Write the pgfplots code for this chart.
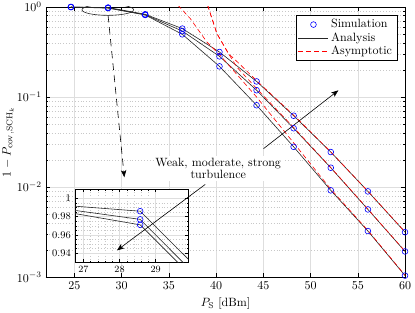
\documentclass[border=0pt]{standalone}
\usepackage{pgfplots}
\usepackage{pgfplotstable}
\pgfplotsset{compat=1.18}
\usetikzlibrary{arrows.meta,calc}

\definecolor{mblue}{RGB}{0,0,255}
\definecolor{mred}{RGB}{255,0,0}
\definecolor{mgrid}{RGB}{222,222,222}
\definecolor{mminor}{RGB}{200,200,200}

\pgfplotstableread{
x      T       M       B
24.64  0.998   0.9985  0.998
28.57  0.986   0.977   0.971
32.50  0.830   0.820   0.815
36.43  0.575   0.540   0.497
40.36  0.316   0.283   0.219
44.29  0.149   0.119   0.081
48.21  0.062   0.045   0.028
52.14  0.0245  0.0164  0.0092
56.07  0.00896 0.00565 0.00325
60.00  0.00316 0.00193 0.00104
}\simdata

\pgfplotstableread{
x     y
39.10 1.05
40.09 0.506
41.32 0.303
42.50 0.232
44.29 0.152
48.21 0.063
52.14 0.0246
56.07 0.0090
60.00 0.00318
}\asyT

\pgfplotstableread{
x     y
39.10 1.05
40.09 0.506
41.32 0.303
42.20 0.215
44.49 0.118
48.21 0.046
52.14 0.0165
56.07 0.0057
60.00 0.00194
}\asyM

\pgfplotstableread{
x     y
35.95 1.05
37.27 0.743
39.03 0.408
40.44 0.290
44.29 0.100
48.21 0.031
52.14 0.0095
56.07 0.0033
60.00 0.00105
}\asyB

\begin{document}
\begin{tikzpicture}
\begin{axis}[
  name=main,
  width=299pt, height=225pt, scale only axis,
  ymode=log,
  xmin=22, xmax=60, ymin=1e-3, ymax=1,
  xtick={25,30,...,60},
  ytick={1e-3,1e-2,1e-1,1},
  minor x tick num=0,
  xmajorgrids, ymajorgrids, yminorgrids,
  major grid style={mgrid, line width=0.4pt},
  minor grid style={mminor, dotted, line width=0.4pt},
  tick align=inside, tick pos=both,
  major tick length=3.5pt, minor tick length=2pt,
  every tick/.style={black, line width=0.4pt},
  axis line style={black, line width=0.5pt},
  xlabel={$P_{\mathrm{S}}$ [dBm]},
  ylabel={$1-P_{\mathrm{cov},\mathrm{SCH}_k}$},
  ylabel style={at={(axis description cs:-0.105,0.5)}, anchor=center},
  legend style={at={(1,1)}, anchor=north east, xshift=-6.7pt, yshift=-6.7pt,
    draw=black, line width=0.4pt, inner xsep=2pt, inner ysep=1.5pt,
    row sep=-1.5pt, cells={anchor=west}, font=\fontsize{10}{11}\selectfont},
  legend image code/.code={\draw[mark repeat=2,mark phase=2,#1] plot coordinates {(0pt,0pt) (12.5pt,0pt) (25pt,0pt)};},
]
\addlegendimage{only marks, mark=o, mblue, mark size=2.4pt, line width=0.5pt}
\addlegendentry{Simulation}
\addlegendimage{black!85, line width=0.5pt}
\addlegendentry{Analysis}
\addlegendimage{mred, line width=0.5pt, dash pattern=on 4pt off 2.5pt}
\addlegendentry{Asymptotic}

\addplot[black!85, line width=0.5pt, forget plot] table[x=x,y=T] {\simdata};
\addplot[black!85, line width=0.5pt, forget plot] table[x=x,y=M] {\simdata};
\addplot[black!85, line width=0.5pt, forget plot] table[x=x,y=B] {\simdata};

\addplot[mred, line width=0.5pt, dash pattern=on 4pt off 2.5pt, forget plot] table[x=x,y=y] {\asyT};
\addplot[mred, line width=0.5pt, dash pattern=on 4pt off 2.5pt, forget plot] table[x=x,y=y] {\asyM};
\addplot[mred, line width=0.5pt, dash pattern=on 4pt off 2.5pt, forget plot] table[x=x,y=y] {\asyB};

\addplot[only marks, mark=o, mblue, mark size=2.4pt, line width=0.5pt, forget plot] table[x=x,y=T] {\simdata};
\addplot[only marks, mark=o, mblue, mark size=2.4pt, line width=0.5pt, forget plot] table[x=x,y=M] {\simdata};
\addplot[only marks, mark=o, mblue, mark size=2.4pt, line width=0.5pt, forget plot] table[x=x,y=B] {\simdata};

\draw[black!85, line width=0.5pt] (axis cs:28.54,0.93) ellipse [x radius=21.5pt, y radius=4.6pt];
\draw[black, line width=0.5pt, dash pattern=on 6pt off 4pt, -{Stealth[length=6pt,width=4.5pt,inset=1.5pt]}]
  (axis cs:28.57,0.809) -- (axis cs:30.29,0.01282);
\node[fill=white, align=center, inner sep=1.5pt, font=\fontsize{10}{10.5}\selectfont]
  at (axis cs:40.23,0.01614) {Weak, moderate, strong\\turbulence};
\draw[black, line width=0.5pt, -{Stealth[length=6pt,width=4.5pt,inset=1.5pt]}]
  (axis cs:45.02,0.0267) -- (axis cs:52.95,0.1187);
\coordinate (a2s) at (axis cs:38.85,0.0107);
\coordinate (a2e) at (axis cs:29.51,0.00198);
\end{axis}

\begin{axis}[
  at={($(main.south west)+(24.2pt,12.5pt)$)}, anchor=south west,
  width=94.3pt, height=60.8pt, scale only axis,
  xmin=26.77, xmax=29.9, ymin=0.93, ymax=1.0103,
  xtick={27,28,29},
  ytick={0.94,0.96,0.98,1},
  yticklabels={0.94,0.96,0.98,1},
  minor x tick num=4, minor y tick num=3,
  xmajorgrids, ymajorgrids, xminorgrids, yminorgrids,
  major grid style={mgrid, line width=0.4pt},
  minor grid style={mminor, dotted, line width=0.4pt},
  tick align=inside, tick pos=both,
  major tick length=2.5pt, minor tick length=1.3pt,
  every tick/.style={black, line width=0.4pt},
  axis line style={black, line width=0.5pt},
  axis background/.style={fill=white},
  tick label style={font=\fontsize{8.5}{10}\selectfont},
  clip marker paths=true,
]
\addplot[black!85, line width=0.5pt] table[x=x,y=T] {\simdata};
\addplot[black!85, line width=0.5pt] table[x=x,y=M] {\simdata};
\addplot[black!85, line width=0.5pt] table[x=x,y=B] {\simdata};
\addplot[only marks, mark=o, mblue, mark size=2.4pt, line width=0.5pt] table[x=x,y=T] {\simdata};
\addplot[only marks, mark=o, mblue, mark size=2.4pt, line width=0.5pt] table[x=x,y=M] {\simdata};
\addplot[only marks, mark=o, mblue, mark size=2.4pt, line width=0.5pt] table[x=x,y=B] {\simdata};
\end{axis}

\draw[black, line width=0.5pt, -{Stealth[length=6pt,width=4.5pt,inset=1.5pt]}] (a2s) -- (a2e);

\pgfresetboundingbox
\path ($(main.south west)+(-38.3pt,-29.2pt)$) rectangle ($(main.north east)+(8.3pt,5.8pt)$);
\end{tikzpicture}
\end{document}
